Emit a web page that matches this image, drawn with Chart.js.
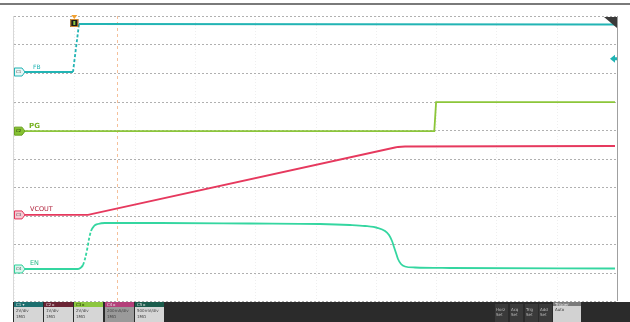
<!DOCTYPE html>
<html>
<head>
<meta charset="utf-8">
<script src="https://cdn.jsdelivr.net/npm/chart.js@4.4.1/dist/chart.umd.min.js"></script>
<style>
html,body{margin:0;padding:0;background:#fff;}
#wrap{position:relative;width:630px;height:322px;}
canvas{display:block;}
</style>
</head>
<body>
<div id="wrap"><canvas id="c" width="630" height="322"></canvas></div>
<script>
// ---- data (x and y in screen divisions) ----
const gridX = [0,1,2,3,4,5,6,7,8,9,10];
const gridY = [0,1,2,3,4,5,6,7,8,9,10];
const cursorX = 1.71;
const triggerX = 1.0;
const triggerLevelY = 8.5;

const vinX = [0, 0.978, 1.078, 9.967];
const vinY = [8.035, 8.035, 9.719, 9.702];

const pgX = [0, 6.97, 7.0, 9.967];
const pgY = [5.96, 5.96, 6.98, 6.98];

const voutX = [0, 1.227, 6.318, 6.368, 6.484, 9.967];
const voutY = [3.02, 3.02, 5.386, 5.404, 5.421, 5.439];

const enX = [0, 1.061, 1.111, 1.144, 1.177, 1.211, 1.244, 1.277, 1.327, 1.393, 1.509, 2.421, 3.914, 5.075, 5.572, 5.821, 6.036, 6.153, 6.219, 6.269, 6.302, 6.335, 6.368, 6.418, 6.484, 6.650, 7.231, 9.967];
const enY = [1.123, 1.123, 1.175, 1.263, 1.474, 1.789, 2.175, 2.456, 2.632, 2.702, 2.737, 2.737, 2.719, 2.702, 2.667, 2.632, 2.561, 2.456, 2.316, 2.105, 1.895, 1.684, 1.474, 1.298, 1.211, 1.175, 1.158, 1.140];

const traceLabels = ['FB', 'PG', 'VCOUT', 'EN'];
const traceColors = ['#22b4b4', '#8cc63a', '#e6395e', '#34d6a0'];
const labelColors = ['#1fb3b3', '#76b020', '#b0203a', '#22b884'];

const chanHeaders = ['C1 \u25be', 'C2 \u25b8', 'C3 \u25b8', 'C4 \u25b8', 'C5 \u25b8'];
const chanScale = ['2V/div', '1V/div', '2V/div', '200mA/div', '500mV/div'];
const chanImp = ['1M\u03a9', '1M\u03a9', '1M\u03a9', '1M\u03a9', '1M\u03a9'];
const rightBtns = ['Horz', 'Acq', 'Trig', 'Add'];

const zip = (xs, ys) => xs.map((x, i) => ({x: x, y: ys[i]}));

const steep = (ctx) => {
  const dx = Math.abs(ctx.p1.parsed.x - ctx.p0.parsed.x);
  const dy = Math.abs(ctx.p1.parsed.y - ctx.p0.parsed.y);
  return dy > 0.2 && dx < 0.15 && ctx.p0.parsed.x < 2 ? [3, 2] : undefined;
};

const decor = {
  id: 'decor',
  beforeDatasetsDraw(chart) {
    const c = chart.ctx, xs = chart.scales.x, ys = chart.scales.y, a = chart.chartArea;
    c.save();
    // top bar line
    c.fillStyle = '#7a7a7a';
    c.fillRect(0, 3, 630, 2);
    // vertical grid (very faint)
    c.strokeStyle = '#efefef';
    c.lineWidth = 1;
    c.setLineDash([1, 2]);
    gridX.forEach(v => {
      const px = Math.round(xs.getPixelForValue(v)) + 0.5;
      c.beginPath(); c.moveTo(px, a.top); c.lineTo(px, a.bottom); c.stroke();
    });
    // horizontal grid
    c.strokeStyle = '#b0b0b0';
    c.setLineDash([2, 2]);
    gridY.forEach(v => {
      const py = Math.round(ys.getPixelForValue(v)) + 0.5;
      c.beginPath(); c.moveTo(a.left, py); c.lineTo(a.right, py); c.stroke();
    });
    // cursor line (orange dashed)
    c.strokeStyle = '#f5c09a';
    c.setLineDash([3, 3]);
    const cx = Math.round(xs.getPixelForValue(cursorX)) + 0.5;
    c.beginPath(); c.moveTo(cx, a.top); c.lineTo(cx, a.bottom); c.stroke();
    c.setLineDash([]);
    // borders
    c.strokeStyle = '#d8d8d8';
    c.beginPath(); c.moveTo(a.left - 0.5, a.top); c.lineTo(a.left - 0.5, a.bottom); c.stroke();
    c.strokeStyle = '#a0a0a0';
    c.beginPath(); c.moveTo(a.right + 0.5, a.top); c.lineTo(a.right + 0.5, a.bottom); c.stroke();
    c.restore();
  },
  afterDatasetsDraw(chart) {
    const c = chart.ctx, xs = chart.scales.x, ys = chart.scales.y, a = chart.chartArea;
    c.save();
    // trigger position marker
    const tx = xs.getPixelForValue(triggerX);
    c.fillStyle = '#f0a030';
    c.beginPath(); c.moveTo(tx - 3, a.top - 1); c.lineTo(tx + 3, a.top - 1); c.lineTo(tx, a.top + 3); c.closePath(); c.fill();
    c.fillStyle = '#1a1a1a';
    c.strokeStyle = '#d08a30';
    c.lineWidth = 1;
    c.fillRect(tx - 4, a.top + 3, 8, 8);
    c.strokeRect(tx - 4 + 0.5, a.top + 3.5, 7, 7);
    c.fillStyle = '#8cc63f';
    c.fillRect(tx - 1, a.top + 5, 2, 4);
    // top-right dark triangle
    c.fillStyle = '#3a3a3a';
    c.beginPath(); c.moveTo(a.right - 13, a.top + 1); c.lineTo(a.right, a.top + 1); c.lineTo(a.right, a.top + 12); c.closePath(); c.fill();
    // trigger level arrow
    const ty = ys.getPixelForValue(triggerLevelY);
    c.fillStyle = '#1fb3b3';
    c.beginPath(); c.moveTo(a.right - 7, ty); c.lineTo(a.right - 2, ty - 4); c.lineTo(a.right - 2, ty + 4); c.closePath(); c.fill();
    c.fillRect(a.right - 3, ty - 1.5, 3, 3);
    // channel pills and labels
    const sets = chart.data.datasets;
    const fills = ['#e8f7f7', '#86c232', '#f7c9d3', '#d8f5ec'];
    const strokes = ['#1fb3b3', '#6aa020', '#e3355a', '#2fd39c'];
    sets.forEach((ds, i) => {
      const py = ys.getPixelForValue(ds.data[0].y);
      const px = a.left;
      c.fillStyle = fills[i];
      c.strokeStyle = strokes[i];
      c.lineWidth = 1;
      c.beginPath();
      c.moveTo(px + 0.5, py - 4);
      c.lineTo(px + 8, py - 4);
      c.lineTo(px + 11, py);
      c.lineTo(px + 8, py + 4);
      c.lineTo(px + 0.5, py + 4);
      c.closePath();
      c.fill(); c.stroke();
      c.fillStyle = i === 1 ? '#2a3a10' : '#555';
      c.font = '4px "DejaVu Sans"';
      c.textAlign = 'left'; c.textBaseline = 'middle';
      c.fillText('C' + (i + 1), px + 2, py);
      // label text
      c.fillStyle = labelColors[i];
      c.textBaseline = 'alphabetic';
      if (i === 0) { c.font = '6px "DejaVu Sans"'; c.fillText(traceLabels[i], px + 19, py - 3); }
      else if (i === 1) { c.font = 'bold 7px "DejaVu Sans"'; c.fillText(traceLabels[i], px + 15, py - 3); }
      else { c.font = '6.5px "DejaVu Sans"'; c.fillText(traceLabels[i], px + 16, py - 4); }
    });
    // bottom status bar
    c.fillStyle = '#2b2b2b';
    c.fillRect(13, 302, 617, 20);
    const heads = ['#1d6f6f', '#6a2434', '#8cc63f', '#b4407a', '#1b5c4c'];
    const bodies = ['#d6d6d6', '#d6d6d6', '#d6d6d6', '#9a9a9a', '#d6d6d6'];
    const bx = [14, 44, 74, 105, 135];
    bx.forEach((x0, i) => {
      c.fillStyle = heads[i];
      c.fillRect(x0, 302, 29, 5);
      c.fillStyle = bodies[i];
      c.fillRect(x0, 307, 29, 15);
      c.font = '4px "DejaVu Sans"';
      c.textAlign = 'left'; c.textBaseline = 'alphabetic';
      c.fillStyle = i === 2 ? '#203000' : '#e0e0e0';
      c.fillText(chanHeaders[i], x0 + 2, 306);
      c.fillStyle = '#444';
      c.fillText(chanScale[i], x0 + 2, 312);
      c.fillText(chanImp[i], x0 + 2, 318);
    });
    const rx = [495, 510, 525, 539];
    rx.forEach((x0, i) => {
      c.fillStyle = '#3a3a3a';
      c.fillRect(x0, 304, 13, 18);
      c.fillStyle = '#bdbdbd';
      c.font = '4px "DejaVu Sans"';
      c.fillText(rightBtns[i], x0 + 1, 311);
      c.fillText('Set', x0 + 1, 316);
    });
    c.fillStyle = '#7a7a7a';
    c.fillRect(553, 302, 28, 4);
    c.fillStyle = '#d2d2d2';
    c.fillRect(553, 306, 28, 16);
    c.fillStyle = '#e8e8e8';
    c.font = '4px "DejaVu Sans"';
    c.fillText('Trigger', 555, 305.5);
    c.fillStyle = '#333';
    c.fillText('Auto', 555, 311);
    c.restore();
  }
};

new Chart(document.getElementById('c'), {
  type: 'scatter',
  data: {
    datasets: [
      {label: traceLabels[0], data: zip(vinX, vinY), borderColor: traceColors[0], segment: {borderDash: steep}},
      {label: traceLabels[1], data: zip(pgX, pgY), borderColor: traceColors[1]},
      {label: traceLabels[2], data: zip(voutX, voutY), borderColor: traceColors[2]},
      {label: traceLabels[3], data: zip(enX, enY), borderColor: traceColors[3], cubicInterpolationMode: 'monotone', segment: {borderDash: steep}}
    ].map(d => Object.assign({showLine: true, pointRadius: 0, borderWidth: 1.8, fill: false}, d))
  },
  options: {
    responsive: false,
    animation: false,
    events: [],
    layout: {padding: {left: 14, right: 13, top: 16, bottom: 21}},
    plugins: {legend: {display: false}, tooltip: {enabled: false}},
    scales: {
      x: {type: 'linear', min: 0, max: 10, display: false},
      y: {type: 'linear', min: 0, max: 10, display: false}
    }
  },
  plugins: [decor]
});
</script>
</body>
</html>
